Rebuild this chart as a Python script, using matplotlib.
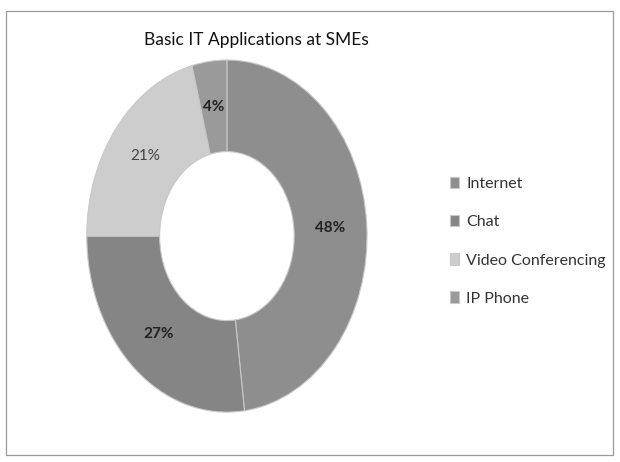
import matplotlib.pyplot as plt
from matplotlib.patches import Rectangle

categories = ["Internet", "Chat", "Video Conferencing", "IP Phone"]
shares = [48, 27, 21, 4]
colors = ["#8e8e8e", "#858585", "#cdcdcd", "#9a9a9a"]
label_bold = [True, True, False, True]

plt.rcParams["font.family"] = ["Lato", "DejaVu Sans"]

fig = plt.figure(figsize=(6.2, 4.62), dpi=100)
fig.patch.set_facecolor("white")

# frame around the chart area
fig.patches.append(Rectangle((0.010, 0.015), 0.978, 0.962, transform=fig.transFigure,
                             fill=False, edgecolor="#9a9a9a", linewidth=0.9))

# scanned donut is stretched vertically, so use non-equal aspect
ax = fig.add_axes([0.140, 0.108, 0.452, 0.762])
wedges, texts, autotexts = ax.pie(
    shares, colors=colors, startangle=90, counterclock=False,
    autopct="%d%%", pctdistance=0.74,
    wedgeprops=dict(width=0.52, edgecolor="#c8c8c8", linewidth=0.8),
    textprops=dict(fontsize=11, color="#222222"))
ax.set_aspect("auto")
ax.set_xlim(-1, 1)
ax.set_ylim(-1, 1)
for t, b in zip(autotexts, label_bold):
    t.set_fontweight("bold" if b else "normal")
    if not b:
        t.set_color("#444444")

fig.text(0.413, 0.913, "Basic IT Applications at SMEs", ha="center", va="center",
         fontsize=12.5, color="#111111")

ax.legend(wedges, categories, loc="center left", bbox_to_anchor=(1.245, 0.485),
          frameon=False, fontsize=11.5, handlelength=0.55, handleheight=0.7,
          handletextpad=0.45, labelspacing=1.5, labelcolor="#333333")

fig.savefig("out.png", dpi=100)
